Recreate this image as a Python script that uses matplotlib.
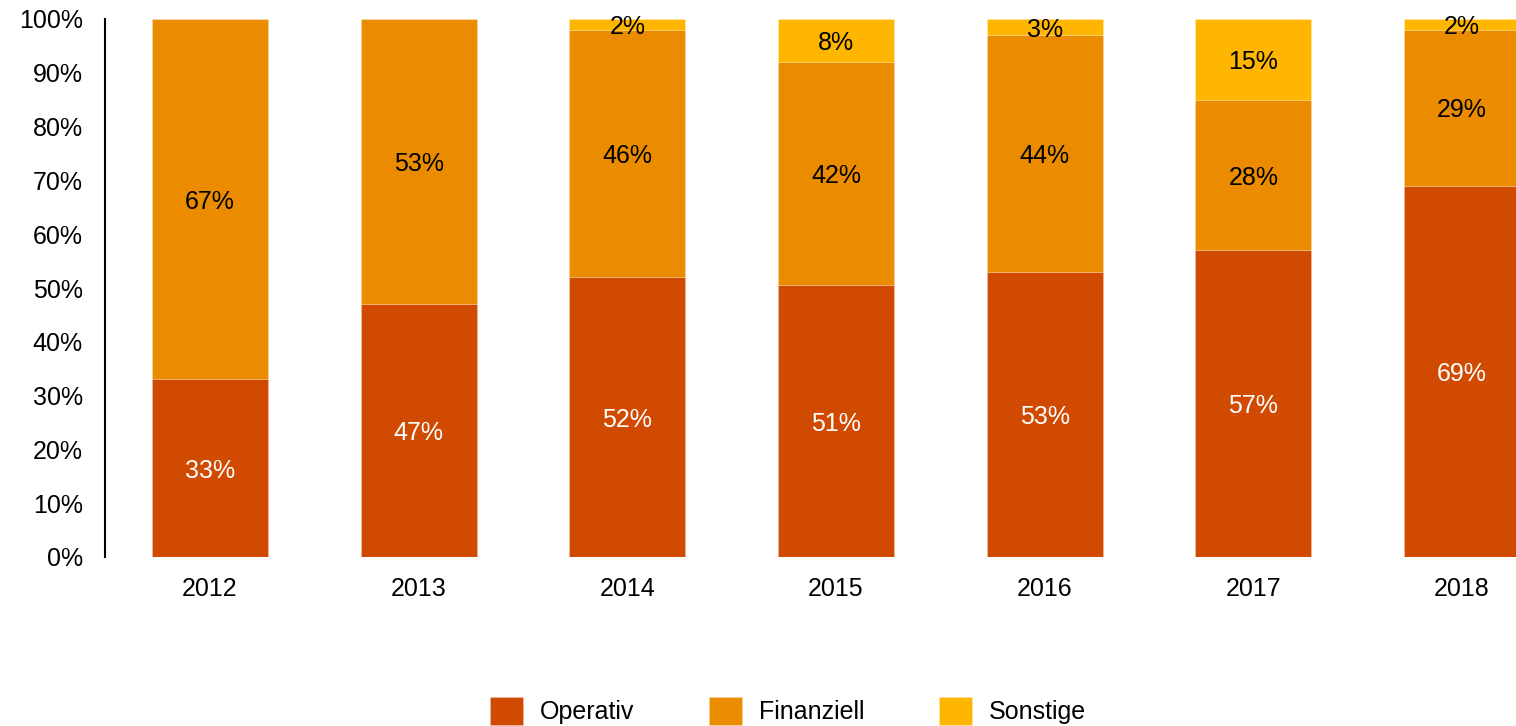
import matplotlib
matplotlib.use("Agg")
import matplotlib.pyplot as plt
import numpy as np

plt.rcParams['font.family'] = ['Liberation Sans', 'DejaVu Sans']

years = ["2012", "2013", "2014", "2015", "2016", "2017", "2018"]
operativ = [33, 47, 52, 51, 53, 57, 69]
finanziell = [67, 53, 46, 42, 44, 28, 29]
sonstige = [0, 0, 2, 8, 3, 15, 2]
series_names = ["Operativ", "Finanziell", "Sonstige"]
colors = ["#D04A02", "#EB8C00", "#FFB600"]
label_colors = ["white", "black", "black"]

W, H = 1516, 726
FS = 18
fig = plt.figure(figsize=(W / 100, H / 100), dpi=100)
ax = fig.add_axes([105 / W, (H - 557) / H, (1567 - 105) / W, 538 / H])

data = np.array([operativ, finanziell, sonstige], dtype=float)
totals = data.sum(axis=0)
shares = data / totals * 100
x = np.arange(len(years))
bottom = np.zeros(len(years))
for i, name in enumerate(series_names):
    ax.bar(x, shares[i], 0.556, bottom=bottom, color=colors[i], label=name,
           edgecolor=(1, 1, 1, 0.2), linewidth=0.6)
    for j in range(len(years)):
        if data[i, j] > 0:
            ax.text(x[j], bottom[j] + shares[i, j] / 2, f"{int(data[i, j])}%",
                    ha='center', va='center_baseline', fontsize=FS, color=label_colors[i])
    bottom += shares[i]

ax.set_xlim(-0.503, 6.503)
ax.set_ylim(0, 100)
ax.set_yticks(np.arange(0, 101, 10))
ax.set_yticklabels([f"{v}%" for v in range(0, 101, 10)], fontsize=FS)
ax.set_xticks(x)
ax.set_xticklabels(years, fontsize=FS)
ax.tick_params(axis='y', length=0, pad=16)
ax.tick_params(axis='x', length=0, pad=14.5)
for s in ['top', 'right', 'bottom']:
    ax.spines[s].set_visible(False)
ax.spines['left'].set_linewidth(1.5)
ax.spines['left'].set_color('black')

handles, labels = ax.get_legend_handles_labels()
fig.legend(handles, labels, loc='center', bbox_to_anchor=(788 / W, 1 - 711 / H),
           ncol=3, frameon=False, fontsize=FS, handlelength=1.3, handleheight=1.3,
           handletextpad=0.68, columnspacing=3.0, borderpad=0)

fig.savefig("out.png", dpi=100)
